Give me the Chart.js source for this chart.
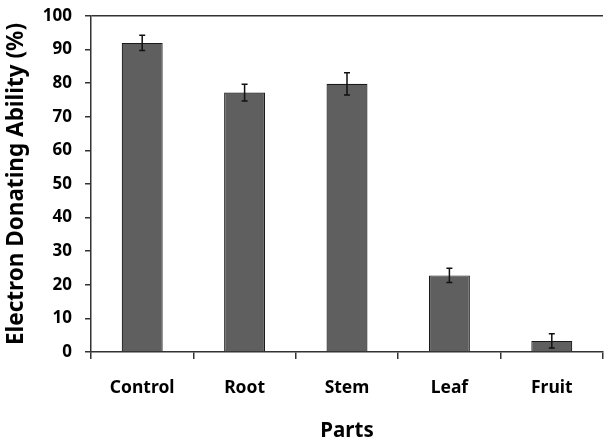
<!DOCTYPE html>
<html>
<head>
<meta charset="utf-8">
<script src="https://cdn.jsdelivr.net/npm/chart.js@4"></script>
<style>
  html, body { margin: 0; padding: 0; background: #fff; }
  #wrap { width: 605px; height: 443px; }
</style>
</head>
<body>
<div id="wrap"><canvas id="chart"></canvas></div>
<script>
const parts = ["Control", "Root", "Stem", "Leaf", "Fruit"];
const eda = [92, 77.2, 79.8, 22.8, 3.3];
const edaErr = [2.3, 2.5, 3.3, 2.1, 2.1];
const yTicks = [0, 10, 20, 30, 40, 50, 60, 70, 80, 90, 100];

const FONT = "'Noto Sans', 'DejaVu Sans', sans-serif";

// error bars drawn through the scales
const errorBars = {
  id: "errorBars",
  afterDatasetsDraw(chart) {
    const { ctx, scales } = chart;
    const meta = chart.getDatasetMeta(0);
    ctx.save();
    ctx.strokeStyle = "#111";
    ctx.lineWidth = 1.5;
    meta.data.forEach((bar, i) => {
      const x = bar.x;
      const top = scales.y.getPixelForValue(eda[i] + edaErr[i]);
      const bot = scales.y.getPixelForValue(eda[i] - edaErr[i]);
      ctx.beginPath();
      ctx.moveTo(x, top); ctx.lineTo(x, bot);
      ctx.moveTo(x - 3, top); ctx.lineTo(x + 3, top);
      ctx.moveTo(x - 3, bot); ctx.lineTo(x + 3, bot);
      ctx.stroke();
    });
    ctx.restore();
  }
};

new Chart(document.getElementById("chart"), {
  type: "bar",
  data: {
    labels: parts,
    datasets: [{
      data: eda,
      backgroundColor: "#5f5f5f",
      borderColor: "#1a1a1a",
      borderWidth: 1.2,
      categoryPercentage: 1,
      barPercentage: 0.4
    }]
  },
  options: {
    responsive: true,
    maintainAspectRatio: false,
    animation: false,
    layout: { padding: { top: 16, right: 2, left: 0, bottom: 0 } },
    plugins: { legend: { display: false }, tooltip: { enabled: false } },
    scales: {
      x: {
        offset: true,
        grid: {
          offset: true,
          drawOnChartArea: false,
          drawTicks: true,
          tickLength: 7,
          color: "#333",
          lineWidth: 1.5
        },
        border: { display: true, color: "#333", width: 1.5 },
        ticks: {
          color: "#000",
          padding: 19,
          font: { family: FONT, size: 17.5, weight: "bold" }
        },
        title: {
          display: true,
          text: "Parts",
          color: "#000",
          padding: { top: 0, bottom: 0 },
          font: { family: FONT, size: 20.5, weight: "bold" }
        },
        afterFit(scale) {
          scale.height = 91;
          scale.paddingLeft = 0;
          scale.paddingRight = 0;
        }
      },
      y: {
        min: 0,
        max: 100,
        afterBuildTicks(scale) { scale.ticks = yTicks.map(v => ({ value: v })); },
        grid: {
          drawOnChartArea: true,
          drawTicks: true,
          tickLength: 6,
          color: c => (c.tick && c.tick.value === 100 ? "#333" : "rgba(0,0,0,0)"),
          tickColor: "#333",
          lineWidth: 1.5
        },
        border: { display: true, color: "#333", width: 1.5 },
        ticks: {
          color: "#000",
          padding: 13,
          font: { family: FONT, size: 17, weight: "bold" }
        },
        title: {
          display: true,
          text: "Electron Donating Ability (%)",
          color: "#000",
          padding: { top: 3, bottom: 0 },
          font: { family: FONT, size: 22.5, weight: "bold" }
        },
        afterFit(scale) {
          scale.width = 91;
          scale.paddingTop = 0;
          scale.paddingBottom = 0;
        }
      }
    }
  },
  plugins: [errorBars]
});
</script>
</body>
</html>
